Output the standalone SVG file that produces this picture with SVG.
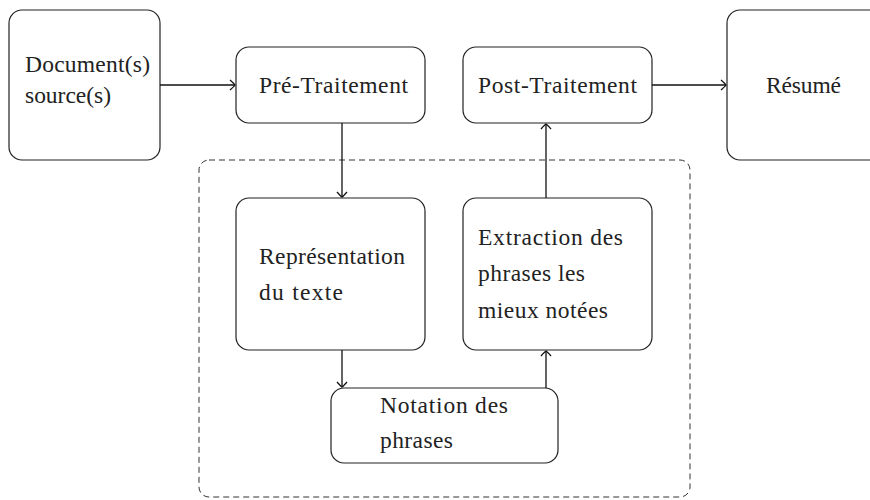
<svg xmlns="http://www.w3.org/2000/svg" width="870" height="500" viewBox="0 0 870 500">
<defs>
<style>
.box{fill:#fff;stroke:#222;stroke-width:1.2}
.dash{fill:none;stroke:#333;stroke-width:1;stroke-dasharray:6 4}
.t{font-size:23.5px;fill:#222}
.c{fill:none;stroke:#111;stroke-width:1.3}
</style>
<marker id="ar" viewBox="-6 -6 8 12" markerWidth="8" markerHeight="12" refX="0" refY="0" orient="auto" markerUnits="userSpaceOnUse">
<path d="M-5,-5 Q-1,-1.5 0,0 Q-1,1.5 -5,5" fill="none" stroke="#111" stroke-width="1.3"/>
</marker>
</defs>
<rect width="870" height="500" fill="#fff"/>
<g id="group-frame"><rect class="dash" x="199" y="160" width="491" height="337" rx="10"/></g>
<g font-family="Liberation Serif, DejaVu Serif, serif">
<g id="doc"><rect class="box" x="9" y="10" width="151" height="150" rx="13"/>
<text class="t" x="25" y="72" textLength="125">Document(s)</text>
<text class="t" x="25" y="103" textLength="86">source(s)</text></g>
<g id="pre"><rect class="box" x="236" y="47" width="189" height="76" rx="13"/>
<text class="t" x="259" y="93" textLength="149">Pré-Traitement</text></g>
<g id="post"><rect class="box" x="463" y="47" width="189" height="76" rx="13"/>
<text class="t" x="478" y="93" textLength="159">Post-Traitement</text></g>
<g id="resume"><rect class="box" x="727" y="10" width="160" height="150" rx="13"/>
<text class="t" x="766" y="93" textLength="75">Résumé</text></g>
<g id="repr"><rect class="box" x="236" y="198" width="189" height="152" rx="13"/>
<text class="t" x="259" y="264" textLength="146">Représentation</text>
<text class="t" x="259" y="300" textLength="84">du texte</text></g>
<g id="extr"><rect class="box" x="463" y="198" width="189" height="152" rx="13"/>
<text class="t" x="478" y="245" textLength="145">Extraction des</text>
<text class="t" x="478" y="281" textLength="107">phrases les</text>
<text class="t" x="478" y="318" textLength="130">mieux notées</text></g>
<g id="nota"><rect class="box" x="331" y="388" width="227" height="75" rx="13"/>
<text class="t" x="380" y="413" textLength="128">Notation des</text>
<text class="t" x="380" y="448" textLength="73">phrases</text></g>
</g>
<g id="connectors">
<line class="c" x1="160" y1="85" x2="235" y2="85" marker-end="url(#ar)"/>
<line class="c" x1="652" y1="85" x2="726" y2="85" marker-end="url(#ar)"/>
<line class="c" x1="342" y1="123" x2="342" y2="197" marker-end="url(#ar)"/>
<line class="c" x1="546" y1="198" x2="546" y2="124" marker-end="url(#ar)"/>
<line class="c" x1="342" y1="350" x2="342" y2="387" marker-end="url(#ar)"/>
<line class="c" x1="546" y1="388" x2="546" y2="351" marker-end="url(#ar)"/>
</g>
</svg>
